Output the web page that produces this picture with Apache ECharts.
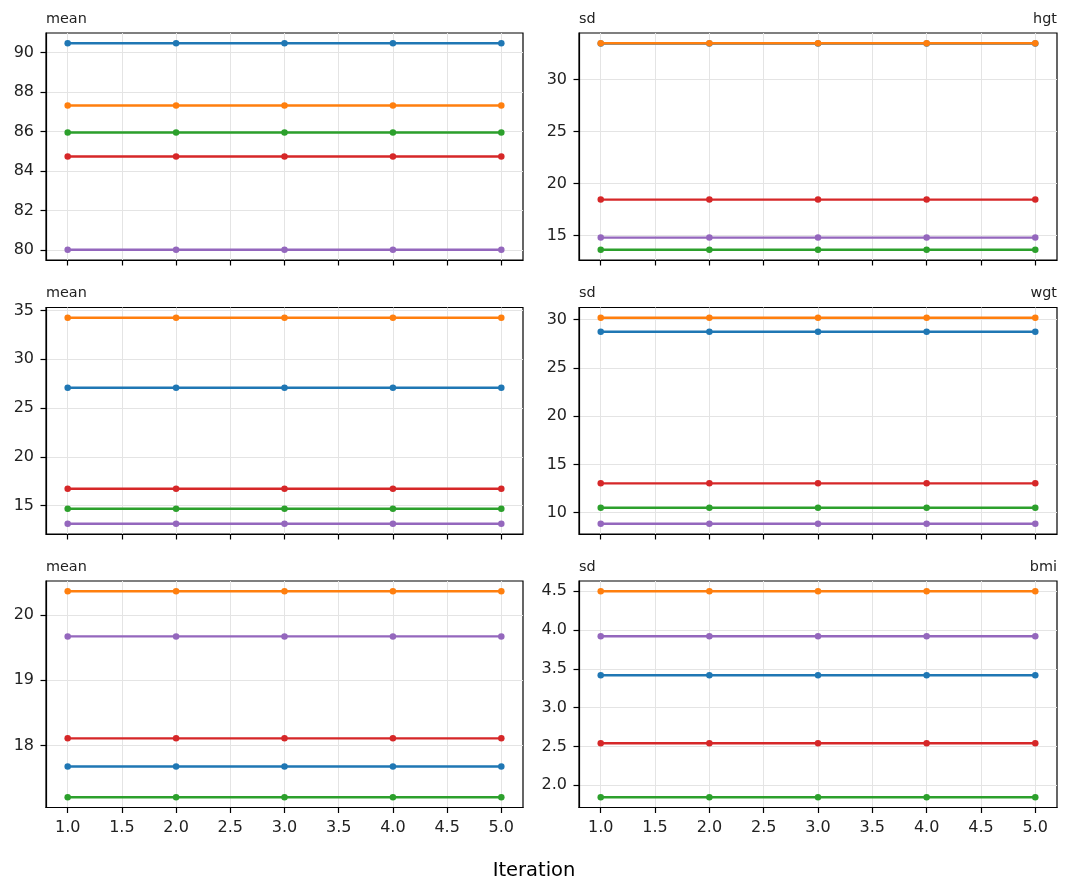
<!DOCTYPE html>
<html>
<head>
<meta charset="utf-8">
<script src="https://cdn.jsdelivr.net/npm/echarts@6/dist/echarts.min.js"></script>
<style>
  html, body { margin: 0; padding: 0; background: #fff; }
  #chart { width: 1068px; height: 895px; }
</style>
</head>
<body>
<div id="chart"></div>
<script>
const iterations = [1, 2, 3, 4, 5];
const chainColors = ['#1f77b4', '#ff7f0e', '#2ca02c', '#d62728', '#9467bd'];

// one row per chain, one value per iteration
const meanHgt = [
  [90.46, 90.46, 90.46, 90.46, 90.46],
  [87.32, 87.32, 87.32, 87.32, 87.32],
  [85.95, 85.95, 85.95, 85.95, 85.95],
  [84.74, 84.74, 84.74, 84.74, 84.74],
  [80.03, 80.03, 80.03, 80.03, 80.03]
];
const sdHgt = [
  [33.44, 33.44, 33.44, 33.44, 33.44],
  [33.46, 33.46, 33.46, 33.46, 33.46],
  [13.65, 13.65, 13.65, 13.65, 13.65],
  [18.46, 18.46, 18.46, 18.46, 18.46],
  [14.81, 14.81, 14.81, 14.81, 14.81]
];
const meanWgt = [
  [27.09, 27.09, 27.09, 27.09, 27.09],
  [34.25, 34.25, 34.25, 34.25, 34.25],
  [14.69, 14.69, 14.69, 14.69, 14.69],
  [16.74, 16.74, 16.74, 16.74, 16.74],
  [13.16, 13.16, 13.16, 13.16, 13.16]
];
const sdWgt = [
  [28.76, 28.76, 28.76, 28.76, 28.76],
  [30.20, 30.20, 30.20, 30.20, 30.20],
  [10.52, 10.52, 10.52, 10.52, 10.52],
  [13.04, 13.04, 13.04, 13.04, 13.04],
  [8.86, 8.86, 8.86, 8.86, 8.86]
];
const meanBmi = [
  [17.68, 17.68, 17.68, 17.68, 17.68],
  [20.36, 20.36, 20.36, 20.36, 20.36],
  [17.21, 17.21, 17.21, 17.21, 17.21],
  [18.11, 18.11, 18.11, 18.11, 18.11],
  [19.67, 19.67, 19.67, 19.67, 19.67]
];
const sdBmi = [
  [3.417, 3.417, 3.417, 3.417, 3.417],
  [4.50, 4.50, 4.50, 4.50, 4.50],
  [1.845, 1.845, 1.845, 1.845, 1.845],
  [2.541, 2.541, 2.541, 2.541, 2.541],
  [3.92, 3.92, 3.92, 3.92, 3.92]
];

const xTicks = [1.0, 1.5, 2.0, 2.5, 3.0, 3.5, 4.0, 4.5, 5.0];
const yTicksMeanHgt = [80, 82, 84, 86, 88, 90];
const yTicksSdHgt = [15, 20, 25, 30];
const yTicksMeanWgt = [15, 20, 25, 30, 35];
const yTicksSdWgt = [10, 15, 20, 25, 30];
const yTicksMeanBmi = [18, 19, 20];
const yTicksSdBmi = [2.0, 2.5, 3.0, 3.5, 4.0, 4.5];

const panels = [
  { data: meanHgt, ticks: yTicksMeanHgt, left: 'mean', right: '', dec: 0 },
  { data: sdHgt, ticks: yTicksSdHgt, left: 'sd', right: 'hgt', dec: 0 },
  { data: meanWgt, ticks: yTicksMeanWgt, left: 'mean', right: '', dec: 0 },
  { data: sdWgt, ticks: yTicksSdWgt, left: 'sd', right: 'wgt', dec: 0 },
  { data: meanBmi, ticks: yTicksMeanBmi, left: 'mean', right: '', dec: 0 },
  { data: sdBmi, ticks: yTicksSdBmi, left: 'sd', right: 'bmi', dec: 1 }
];

const colLeft = [46, 579];
const colWidth = [477, 478];
const rowTop = [33, 307.5, 581];
const rowHeight = [227, 226.5, 226.5];

const font = 'DejaVu Sans';
const gridLineColor = '#e4e4e4';

const grids = [];
const xAxes = [];
const yAxes = [];
const series = [];
const titles = [];

panels.forEach((p, i) => {
  const row = Math.floor(i / 2);
  const col = i % 2;
  const left = colLeft[col];
  const top = rowTop[row];
  grids.push({
    left: left, top: top, width: colWidth[col], height: rowHeight[row],
    show: true, borderColor: '#000', borderWidth: 1.2, backgroundColor: '#fff'
  });

  // matplotlib-like 5% margins
  const all = p.data.flat();
  const lo = Math.min(...all), hi = Math.max(...all);
  const pad = (hi - lo) * 0.05;

  xAxes.push({
    type: 'value', gridIndex: i, min: 0.8, max: 5.2,
    axisLine: { show: true, onZero: false, lineStyle: { color: '#000', width: 1.2 } },
    axisTick: { show: true, customValues: xTicks, length: 5.5, lineStyle: { color: '#000', width: 1.2 } },
    axisLabel: {
      show: row === 2, customValues: xTicks, color: '#222', fontFamily: font, fontSize: 16,
      margin: 12, formatter: v => v.toFixed(1)
    },
    splitLine: { show: true, lineStyle: { color: gridLineColor, width: 1 } }
  });
  yAxes.push({
    type: 'value', gridIndex: i, min: lo - pad, max: hi + pad,
    axisLine: { show: true, onZero: false, lineStyle: { color: '#000', width: 1.2 } },
    axisTick: { show: true, customValues: p.ticks, length: 5.5, lineStyle: { color: '#000', width: 1.2 } },
    axisLabel: {
      customValues: p.ticks, color: '#222', fontFamily: font, fontSize: 16, margin: 12,
      formatter: v => v.toFixed(p.dec)
    },
    splitLine: { show: true, lineStyle: { color: gridLineColor, width: 1 } }
  });

  p.data.forEach((vals, c) => {
    series.push({
      type: 'line', xAxisIndex: i, yAxisIndex: i,
      data: iterations.map((it, k) => [it, vals[k]]),
      symbol: 'circle', symbolSize: 6.5,
      lineStyle: { color: chainColors[c], width: 2.4 },
      itemStyle: { color: chainColors[c] },
      animation: false, z: 2 + c
    });
  });

  titles.push({
    text: p.left, left: left, top: top - 21, padding: 0,
    textStyle: { fontFamily: font, fontSize: 14.4, fontWeight: 'normal', color: '#222' }
  });
  if (p.right) {
    titles.push({
      text: p.right, right: 1068 - (left + colWidth[col]), top: top - 21, padding: 0,
      textStyle: { fontFamily: font, fontSize: 14.4, fontWeight: 'normal', color: '#222' }
    });
  }
});

titles.push({
  text: 'Iteration', left: 'center', top: 861, padding: 0,
  textStyle: { fontFamily: font, fontSize: 19.5, fontWeight: 'normal', color: '#000' }
});

const chart = echarts.init(document.getElementById('chart'));
chart.setOption({
  backgroundColor: '#fff',
  animation: false,
  title: titles,
  grid: grids,
  xAxis: xAxes,
  yAxis: yAxes,
  series: series
});
</script>
</body>
</html>
